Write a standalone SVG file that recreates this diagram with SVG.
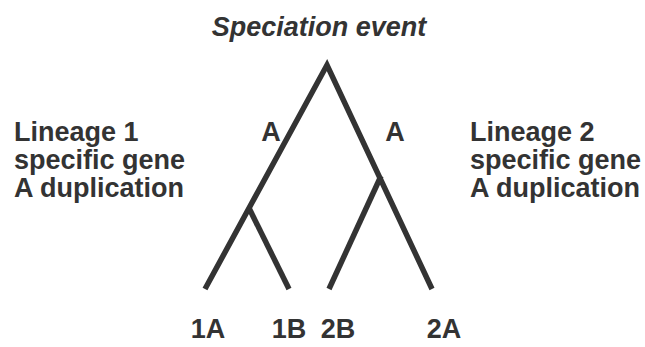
<svg xmlns="http://www.w3.org/2000/svg" width="645" height="347" viewBox="0 0 645 347">
<style>
.t{font-family:"Liberation Sans",Arial,sans-serif;font-weight:bold;font-size:27px;fill:#333}
.br{fill:none;stroke:#333;stroke-width:5.5;stroke-linejoin:miter;stroke-linecap:butt}
</style>
<rect width="645" height="347" fill="#fff"/>
<g id="title"><text class="t" x="319" y="36" text-anchor="middle" font-style="italic" font-size="27.4">Speciation event</text></g>
<g id="lineage1"><text class="t" x="14" y="141">Lineage 1</text><text class="t" x="14" y="169">specific gene</text><text class="t" x="14" y="197">A duplication</text></g>
<g id="lineage2"><text class="t" x="470" y="141">Lineage 2</text><text class="t" x="470" y="169">specific gene</text><text class="t" x="470" y="197">A duplication</text></g>
<g id="labelA1"><text class="t" x="271" y="141" text-anchor="middle">A</text></g>
<g id="labelA2"><text class="t" x="395" y="141" text-anchor="middle">A</text></g>
<g id="leaf1A"><text class="t" x="208" y="338" text-anchor="middle">1A</text></g>
<g id="leaf1B"><text class="t" x="289" y="338" text-anchor="middle">1B</text></g>
<g id="leaf2B"><text class="t" x="338" y="338" text-anchor="middle">2B</text></g>
<g id="leaf2A"><text class="t" x="444" y="338" text-anchor="middle">2A</text></g>
<g id="connectors">
<polyline class="br" points="205,289 327,65 432,289"/>
<line class="br" x1="249" y1="208" x2="289" y2="289"/>
<line class="br" x1="381" y1="176" x2="329" y2="289"/>
</g>
</svg>
